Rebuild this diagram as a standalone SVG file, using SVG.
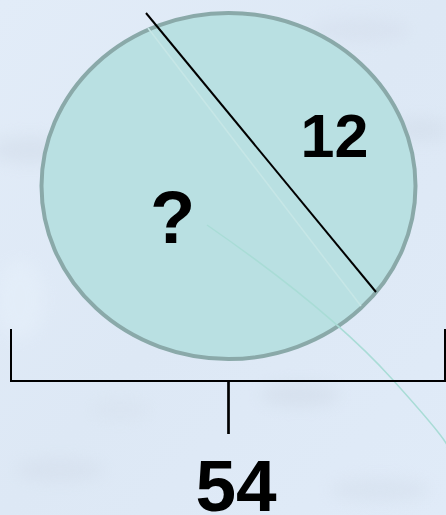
<svg xmlns="http://www.w3.org/2000/svg" width="446" height="515" viewBox="0 0 446 515">
  <defs>
    <linearGradient id="bg" x1="0" y1="0" x2="1" y2="1">
      <stop offset="0" stop-color="#e2ecf8"/>
      <stop offset="0.5" stop-color="#dde8f5"/>
      <stop offset="1" stop-color="#e0ebf8"/>
    </linearGradient>
    <filter id="blur" x="-50%" y="-50%" width="200%" height="200%">
      <feGaussianBlur stdDeviation="8"/>
    </filter>
    <style>
      .lbl { font-family: "Liberation Sans", Arial, sans-serif; font-weight: bold; fill: #000; text-anchor: middle; }
      .br { stroke: #000; fill: none; stroke-width: 2; }
    </style>
  </defs>
  <g id="background">
    <rect width="446" height="515" fill="url(#bg)"/>
    <g filter="url(#blur)" opacity="0.45">
      <ellipse cx="30" cy="150" rx="40" ry="14" fill="#cfd9e6"/>
      <ellipse cx="420" cy="130" rx="30" ry="12" fill="#cfd9e6"/>
      <ellipse cx="360" cy="30" rx="50" ry="12" fill="#d3dcea"/>
      <ellipse cx="300" cy="395" rx="40" ry="12" fill="#cdd7e4"/>
      <ellipse cx="60" cy="470" rx="45" ry="12" fill="#d2dce9"/>
      <ellipse cx="380" cy="490" rx="50" ry="12" fill="#d2dce9"/>
      <ellipse cx="120" cy="410" rx="30" ry="10" fill="#d6e0ec"/>
      <ellipse cx="20" cy="300" rx="25" ry="40" fill="#e8f2fc"/>
    </g>
  </g>
  <g id="circle">
    <ellipse cx="228.5" cy="186" rx="187" ry="173" fill="#b9e0e2" stroke="#8aa9a9" stroke-width="4"/>
    <line x1="148" y1="28" x2="361" y2="306" stroke="#c6e6e6" stroke-width="1.5"/>
    <path d="M207,225 Q330,310 393,380 T446,447" fill="none" stroke="#a9dcd6" stroke-width="1.5"/>
    <text class="lbl" x="334.5" y="157" font-size="61">12</text>
    <text class="lbl" x="172.5" y="243" font-size="74">?</text>
  </g>
  <g id="connectors">
    <line x1="146" y1="13" x2="376" y2="292" stroke="#000" stroke-width="2"/>
    <path class="br" d="M11,329 V381 H445 V329"/>
    <line x1="228.5" y1="381" x2="228.5" y2="434" stroke="#000" stroke-width="2.7"/>
  </g>
  <g id="total">
    <text class="lbl" x="236" y="511" font-size="73">54</text>
  </g>
</svg>
